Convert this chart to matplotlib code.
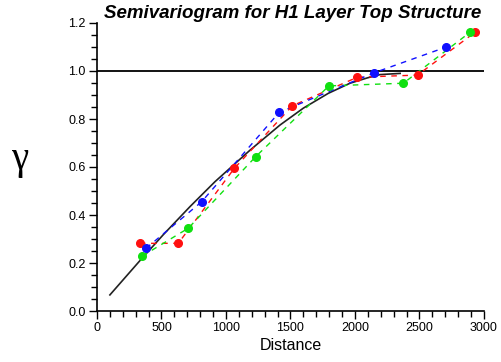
import matplotlib
matplotlib.use("Agg")
import matplotlib.pyplot as plt
from matplotlib.ticker import MultipleLocator

# experimental semivariogram points (three directions)
red_x = [333, 630, 1064, 1514, 2018, 2485, 2930]
red_y = [0.282, 0.282, 0.594, 0.855, 0.974, 0.983, 1.161]

green_x = [351, 708, 1230, 1798, 2375, 2891]
green_y = [0.229, 0.345, 0.643, 0.938, 0.949, 1.161]

blue_x = [380, 811, 1413, 2150, 2703]
blue_y = [0.261, 0.455, 0.828, 0.993, 1.099]

# fitted model curve
model_x = [100, 333, 514, 721, 915, 1186, 1419, 1599, 1793, 1961, 2100, 2194, 2350]
model_y = [0.067, 0.21, 0.318, 0.435, 0.539, 0.67, 0.775, 0.845, 0.907, 0.949, 0.972, 0.985, 0.99]

sill = 1.0

plt.rcParams['font.family'] = ['Liberation Sans', 'DejaVu Sans']

fig = plt.figure(figsize=(5.02, 3.62), dpi=100)
ax = fig.add_axes([97 / 502, 51 / 362, 387 / 502, 288 / 362])

ax.axhline(sill, color="black", lw=1.3, zorder=1)
ax.plot(model_x, model_y, color="#222222", lw=1.2, zorder=2)

for xs, ys, c in [(red_x, red_y, "#ff1010"), (green_x, green_y, "#10e010"), (blue_x, blue_y, "#1010ff")]:
    ax.plot(xs, ys, color=c, lw=1.0, linestyle=(0, (4, 4)), zorder=3)
    ax.plot(xs, ys, "o", color=c, ms=5.5, mec=c, linestyle="none", zorder=4, clip_on=False)

ax.set_xlim(0, 3000)
ax.set_ylim(0, 1.2)
ax.xaxis.set_major_locator(MultipleLocator(500))
ax.xaxis.set_minor_locator(MultipleLocator(100))
ax.yaxis.set_major_locator(MultipleLocator(0.2))
ax.yaxis.set_minor_locator(MultipleLocator(0.05))
ax.yaxis.set_major_formatter(matplotlib.ticker.FormatStrFormatter("%.1f"))

ax.spines["top"].set_visible(False)
ax.spines["right"].set_visible(False)
for s in ["left", "bottom"]:
    ax.spines[s].set_linewidth(1.2)

ax.tick_params(which="major", direction="out", length=6, width=1, labelsize=9, pad=2)
ax.tick_params(which="minor", direction="out", length=4, width=1)

ax.set_xlabel("Distance", fontsize=11.5, labelpad=3)
fig.text(20 / 502, 1 - 160 / 362, "γ", fontsize=28, family="Liberation Serif",
         ha="center", va="center")
fig.text(293 / 502, 1 - 13 / 362, "Semivariogram for H1 Layer Top Structure",
         fontsize=13.5, fontweight="bold", fontstyle="italic", ha="center", va="center")

fig.savefig("out.png", dpi=100)
